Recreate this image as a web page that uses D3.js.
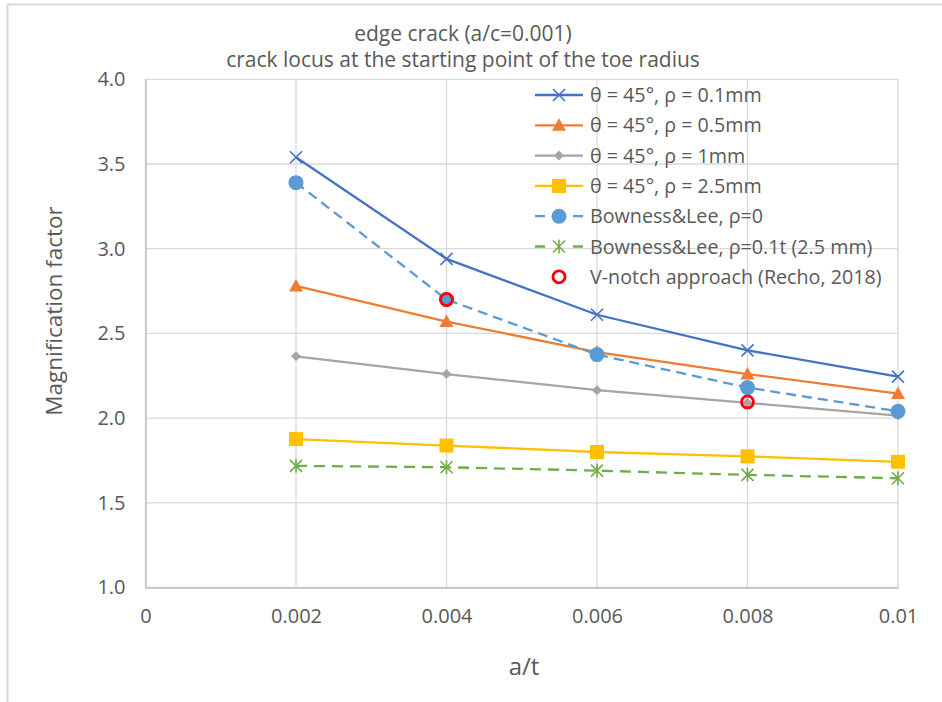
<!DOCTYPE html>
<html>
<head>
<meta charset="utf-8">
<script src="https://cdn.jsdelivr.net/npm/d3@7"></script>
<style>
  body { margin: 0; background: #fff; }
  text { font-family: "Open Sans", sans-serif; fill: #595959; }
</style>
</head>
<body>
<div class="vis"></div>
<script>
// data
const aOverT = [0.002, 0.004, 0.006, 0.008, 0.01];
const rho01 = [3.54, 2.94, 2.61, 2.40, 2.245];
const rho05 = [2.78, 2.57, 2.39, 2.26, 2.145];
const rho1 = [2.365, 2.26, 2.165, 2.09, 2.015];
const rho25 = [1.876, 1.838, 1.80, 1.774, 1.742];
const bowness0 = [3.39, 2.70, 2.375, 2.18, 2.04];
const bowness01t = [1.718, 1.71, 1.69, 1.665, 1.645];
const vnotchX = [0.004, 0.008];
const vnotchY = [2.70, 2.095];
const xTicks = [0, 0.002, 0.004, 0.006, 0.008, 0.01];
const xTickLabels = ["0", "0.002", "0.004", "0.006", "0.008", "0.01"];
const yTicks = [1.0, 1.5, 2.0, 2.5, 3.0, 3.5, 4.0];
const seriesNames = ["θ = 45°, ρ = 0.1mm", "θ = 45°, ρ = 0.5mm", "θ = 45°, ρ = 1mm",
    "θ = 45°, ρ = 2.5mm", "Bowness&Lee, ρ=0", "Bowness&Lee, ρ=0.1t (2.5 mm)",
    "V-notch approach (Recho, 2018)"];

const series = [
    {name: seriesNames[0], values: rho01, color: "#4472c4", marker: "x", dash: null},
    {name: seriesNames[1], values: rho05, color: "#ed7d31", marker: "triangle", dash: null},
    {name: seriesNames[2], values: rho1, color: "#a5a5a5", marker: "diamond", dash: null},
    {name: seriesNames[3], values: rho25, color: "#ffc000", marker: "square", dash: null},
    {name: seriesNames[4], values: bowness0, color: "#5b9bd5", marker: "circle", dash: "10,6"},
    {name: seriesNames[5], values: bowness01t, color: "#70ad47", marker: "star", dash: "11,7"}
];

const W = 942, H = 702;
const margin = {left: 145.5, right: 44, top: 79.3, bottom: 114.5};
let width = W - margin.left - margin.right,
    height = H - margin.top - margin.bottom;

let svg = d3.select('.vis')
    .append("svg")
    .attr("width", W)
    .attr("height", H);

// outer chart frame (only top and left visible)
svg.append("path")
    .attr("d", "M7.5," + H + "V4.5H" + W)
    .attr("fill", "none")
    .attr("stroke", "#d9d9d9")
    .attr("stroke-width", 2);

let g = svg.append("g")
    .attr("transform", "translate(" + margin.left + "," + margin.top + ")");

const x = d3.scaleLinear().domain([0, 0.01]).range([0, width]);
const y = d3.scaleLinear().domain([1, 4]).range([height, 0]);

// gridlines
g.append("g")
    .selectAll("line")
    .data(yTicks)
    .join("line")
    .attr("x1", 0).attr("x2", width)
    .attr("y1", d => y(d)).attr("y2", d => y(d))
    .attr("stroke", "#d9d9d9").attr("stroke-width", 1.3);

g.append("g")
    .selectAll("line")
    .data(xTicks)
    .join("line")
    .attr("x1", d => x(d)).attr("x2", d => x(d))
    .attr("y1", 0).attr("y2", height)
    .attr("stroke", "#d9d9d9").attr("stroke-width", 1.3);

// axes
let xAxis = g.append("g")
    .attr("transform", "translate(0," + height + ")")
    .call(d3.axisBottom(x).tickValues(xTicks)
        .tickFormat((d, i) => xTickLabels[i]).tickSize(0).tickPadding(21));
xAxis.select(".domain").attr("stroke", "#bfbfbf").attr("stroke-width", 1.5);
xAxis.selectAll("text").style("font-size", "20px").attr("fill", "#595959");

let yAxis = g.append("g")
    .call(d3.axisLeft(y).tickValues(yTicks)
        .tickFormat(d3.format(".1f")).tickSize(0).tickPadding(20));
yAxis.select(".domain").attr("stroke", "#bfbfbf").attr("stroke-width", 1.5);
yAxis.selectAll("text").style("font-size", "20px").attr("fill", "#595959");

// titles
svg.append("text")
    .attr("x", 463).attr("y", 41)
    .attr("text-anchor", "middle")
    .style("font-size", "21px")
    .text("edge crack (a/c=0.001)");
svg.append("text")
    .attr("x", 463).attr("y", 67)
    .attr("text-anchor", "middle")
    .style("font-size", "21px")
    .text("crack locus at the starting point of the toe radius");

svg.append("text")
    .attr("x", 524).attr("y", 675)
    .attr("text-anchor", "middle")
    .style("font-size", "24px")
    .text("a/t");

svg.append("text")
    .attr("transform", "translate(62,311) rotate(-90)")
    .attr("text-anchor", "middle")
    .style("font-size", "22.5px")
    .text("Magnification factor");

// marker drawing
function drawMarker(sel, type, color) {
    if (type === "x") {
        sel.append("path").attr("d", "M-6,-6L6,6M-6,6L6,-6")
            .attr("stroke", color).attr("stroke-width", 1.6).attr("fill", "none");
    } else if (type === "triangle") {
        sel.append("path").attr("d", "M0,-7L7,5.5H-7Z").attr("fill", color);
    } else if (type === "diamond") {
        sel.append("path").attr("d", "M0,-5L5,0L0,5L-5,0Z").attr("fill", color);
    } else if (type === "square") {
        sel.append("rect").attr("x", -7).attr("y", -7).attr("width", 14).attr("height", 14)
            .attr("fill", color);
    } else if (type === "circle") {
        sel.append("circle").attr("r", 7.5).attr("fill", color);
    } else if (type === "star") {
        sel.append("path").attr("d", "M-6,-6L6,6M-6,6L6,-6M0,-7V7")
            .attr("stroke", color).attr("stroke-width", 1.6).attr("fill", "none");
    } else if (type === "ring") {
        sel.append("circle").attr("r", 6).attr("fill", "none")
            .attr("stroke", color).attr("stroke-width", 2.8);
    }
}

const line = d3.line()
    .x((d, i) => x(aOverT[i]))
    .y(d => y(d));

series.forEach(s => {
    g.append("path")
        .datum(s.values)
        .attr("d", line)
        .attr("fill", "none")
        .attr("stroke", s.color)
        .attr("stroke-width", 2.3)
        .attr("stroke-dasharray", s.dash);

    g.append("g")
        .selectAll("g")
        .data(s.values)
        .join("g")
        .attr("transform", (d, i) => "translate(" + x(aOverT[i]) + "," + y(d) + ")")
        .each(function () { drawMarker(d3.select(this), s.marker, s.color); });
});

// V-notch points
g.append("g")
    .selectAll("g")
    .data(vnotchY)
    .join("g")
    .attr("transform", (d, i) => "translate(" + x(vnotchX[i]) + "," + y(d) + ")")
    .each(function () { drawMarker(d3.select(this), "ring", "#ff0000"); });

// legend
let legend = svg.append("g").attr("transform", "translate(535,95)");
const legendItems = series.concat([{name: seriesNames[6], color: "#ff0000", marker: "ring", dash: "none"}]);
legendItems.forEach((s, i) => {
    let row = legend.append("g").attr("transform", "translate(0," + (i * 30.3) + ")");
    if (s.marker !== "ring") {
        if (s.dash) {
            row.append("path").attr("d", "M0,0H10M38,0H48")
                .attr("stroke", s.color).attr("stroke-width", 2.3);
        } else {
            row.append("line").attr("x1", 0).attr("x2", 48)
                .attr("stroke", s.color).attr("stroke-width", 2.3);
        }
    }
    drawMarker(row.append("g").attr("transform", "translate(24,0)"), s.marker, s.color);
    row.append("text")
        .attr("x", 55).attr("y", 7)
        .style("font-size", "19.7px")
        .text(s.name);
});
</script>
</body>
</html>
